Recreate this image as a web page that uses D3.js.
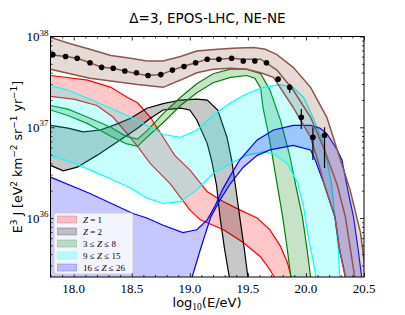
<!DOCTYPE html>
<html>
<head>
<meta charset="utf-8">
<script src="https://cdn.jsdelivr.net/npm/d3@7"></script>
<style>
body { margin: 0; background: #fff; }
</style>
</head>
<body>
<script>
// band edges: [log10(E/eV), log10(E^3 J)]
const totUp = [[17.80,37.99],[17.97,37.92],[18.14,37.86],[18.32,37.79],[18.49,37.76],[18.63,37.73],[18.77,37.73],[18.92,37.78],[19.06,37.84],[19.24,37.86],[19.37,37.87],[19.55,37.88],[19.65,37.86],[19.75,37.80],[19.89,37.66],[20.04,37.44],[20.18,37.11],[20.27,36.75],[20.38,36.31],[20.47,35.84],[20.50,35.54],[20.53,35.30]];
const totMid = [[17.80,37.80],[17.93,37.78],[18.03,37.76],[18.14,37.71],[18.24,37.66],[18.34,37.65],[18.44,37.62],[18.54,37.59],[18.64,37.57],[18.75,37.58],[18.85,37.63],[18.94,37.67],[19.05,37.71],[19.15,37.75],[19.25,37.75],[19.36,37.76],[19.46,37.75],[19.61,37.75],[19.75,37.63],[19.89,37.41],[20.04,37.11],[20.16,36.75],[20.27,36.36],[20.34,36.01],[20.42,35.35],[20.44,35.20]];
const totLo = [[17.80,37.64],[18.14,37.54],[18.55,37.47],[18.77,37.44],[18.92,37.52],[19.06,37.60],[19.20,37.64],[19.35,37.65],[19.49,37.64],[19.61,37.60],[19.72,37.55],[19.89,37.22],[20.04,36.89],[20.10,36.64],[20.16,36.36],[20.25,36.01],[20.29,35.65],[20.34,35.35],[20.36,35.20]];

const z1Up = [[17.80,37.57],[18.12,37.52],[18.32,37.44],[18.46,37.33],[18.55,37.27],[18.66,37.11],[18.77,36.89],[18.87,36.69],[19.00,36.53],[19.15,36.29],[19.29,36.18],[19.43,36.09],[19.58,36.00],[19.69,35.87],[19.78,35.69],[19.84,35.51],[19.88,35.32],[19.90,35.10]];
const z1Lo = [[17.80,37.34],[18.00,37.31],[18.20,37.24],[18.34,37.11],[18.46,36.93],[18.55,36.79],[18.66,36.60],[18.83,36.38],[19.00,36.09],[19.09,35.98],[19.29,35.87],[19.46,35.73],[19.61,35.57],[19.69,35.43],[19.73,35.34],[19.75,35.10]];

const z2Up = [[17.80,37.02],[17.95,36.99],[18.08,36.95],[18.23,36.97],[18.38,37.04],[18.49,37.10],[18.63,37.21],[18.77,37.26],[18.92,37.30],[19.06,37.31],[19.15,37.30],[19.24,37.19],[19.32,36.89],[19.36,36.64],[19.39,36.38],[19.43,36.01],[19.47,35.65],[19.50,35.35],[19.51,35.10]];
const z2Lo = [[17.80,36.58],[17.91,36.52],[18.03,36.56],[18.20,36.69],[18.40,36.86],[18.55,36.99],[18.66,37.10],[18.77,37.19],[18.92,37.21],[19.00,37.19],[19.06,37.08],[19.15,36.82],[19.19,36.62],[19.23,36.36],[19.26,36.01],[19.30,35.65],[19.34,35.35],[19.35,35.10]];

const cnoUp = [[17.80,37.24],[17.95,37.20],[18.12,37.11],[18.32,37.00],[18.45,36.90],[18.55,36.87],[18.63,36.96],[18.77,37.15],[18.92,37.33],[19.06,37.48],[19.20,37.59],[19.35,37.64],[19.49,37.64],[19.61,37.59],[19.69,37.41],[19.78,37.08],[19.86,36.69],[19.92,36.31],[19.97,36.01],[20.01,35.65],[20.04,35.35],[20.05,35.10]];
const cnoLo = [[17.80,37.19],[17.95,37.13],[18.12,37.04],[18.32,36.90],[18.45,36.82],[18.55,36.79],[18.63,36.89],[18.77,37.05],[18.92,37.24],[19.06,37.38],[19.20,37.49],[19.35,37.55],[19.49,37.57],[19.56,37.54],[19.61,37.43],[19.63,37.22],[19.67,36.97],[19.71,36.69],[19.76,36.31],[19.80,36.01],[19.84,35.65],[19.87,35.35],[19.88,35.10]];

const siUp = [[17.80,37.46],[17.95,37.41],[18.12,37.32],[18.32,37.21],[18.49,37.11],[18.63,37.02],[18.77,36.92],[18.92,36.89],[19.06,36.97],[19.20,37.13],[19.35,37.27],[19.49,37.37],[19.63,37.44],[19.78,37.47],[19.89,37.44],[19.98,37.33],[20.06,37.11],[20.14,36.86],[20.18,36.64],[20.22,36.38],[20.25,36.01],[20.28,35.65],[20.29,35.35],[20.30,35.10]];
const siLo = [[17.80,36.69],[17.97,36.62],[18.14,36.53],[18.32,36.43],[18.49,36.33],[18.63,36.22],[18.77,36.16],[18.92,36.18],[19.06,36.31],[19.20,36.49],[19.35,36.60],[19.49,36.69],[19.63,36.73],[19.72,36.71],[19.84,36.60],[19.93,36.38],[19.98,36.12],[20.02,35.79],[20.06,35.54],[20.09,35.32],[20.10,35.10]];

const feUp = [[17.80,36.45],[18.14,36.27],[18.51,36.05],[18.63,36.00],[18.77,35.92],[18.94,35.84],[19.06,35.87],[19.15,35.98],[19.22,36.14],[19.28,36.31],[19.35,36.47],[19.43,36.64],[19.58,36.86],[19.72,36.97],[19.89,37.02],[20.04,37.02],[20.12,36.99],[20.18,36.93],[20.27,36.75],[20.31,36.64],[20.36,36.31],[20.41,36.01],[20.45,35.65],[20.48,35.35],[20.50,35.10]];
const feLo = [[17.80,35.10],[18.96,35.10],[19.02,35.35],[19.09,35.65],[19.18,36.01],[19.26,36.20],[19.35,36.38],[19.46,36.56],[19.58,36.69],[19.69,36.75],[19.89,36.80],[20.04,36.75],[20.08,36.64],[20.16,36.36],[20.25,36.01],[20.29,35.65],[20.34,35.35],[20.36,35.10]];

// measured spectrum
const dataX = [17.82,17.93,18.03,18.14,18.24,18.34,18.44,18.54,18.64,18.75,18.85,18.95,19.05,19.15,19.25,19.36,19.46,19.56,19.66,19.76,19.86,19.96,20.06,20.16];
const dataY = [37.80,37.78,37.76,37.71,37.66,37.65,37.62,37.60,37.57,37.58,37.63,37.67,37.71,37.75,37.75,37.76,37.73,37.73,37.71,37.53,37.44,37.11,36.89,36.91];
const errHi = [null,null,null,null,null,null,null,null,null,null,null,null,null,null,null,null,null,null,null,null,37.48,37.20,37.00,37.00];
const errLo = [null,null,null,null,null,null,null,null,null,null,null,null,null,null,null,null,null,null,null,null,37.38,36.98,36.64,36.55];

const legendLabels = ["Z = 1", "Z = 2", "3 ≤ Z ≤ 8", "9 ≤ Z ≤ 15", "16 ≤ Z ≤ 26"];
const xTicks = [18.0, 18.5, 19.0, 19.5, 20.0, 20.5];
const yDecades = [36, 37, 38];

const bands = [
  {up: z1Up, lo: z1Lo, color: "#ff0000"},
  {up: z2Up, lo: z2Lo, color: "#000000"},
  {up: cnoUp, lo: cnoLo, color: "#008000"},
  {up: siUp, lo: siLo, color: "#00ffff"},
  {up: feUp, lo: feLo, color: "#0000ff"}
];

const width = 405, height = 315;
const L = 50.5, R = 364, T = 36.5, B = 277;
const serif = "'Liberation Serif', 'DejaVu Serif', serif";
const sans = "'DejaVu Sans', sans-serif";

const svg = d3.select("body").append("svg")
  .attr("width", width).attr("height", height);

const x = d3.scaleLinear().domain([17.8, 20.5]).range([L, R]);
const y = d3.scaleLog().domain([Math.pow(10, 35.35), 1e38]).range([B, T]);

const px = d => x(d[0]);
const py = d => y(Math.pow(10, d[1]));
const line = d3.line().x(px).y(py);

svg.append("clipPath").attr("id", "plot")
  .append("rect").attr("x", L).attr("y", T).attr("width", R - L).attr("height", B - T);

const g = svg.append("g").attr("clip-path", "url(#plot)");

function drawBand(up, lo, color, op, sw) {
  const poly = up.concat(lo.slice().reverse());
  g.append("path").attr("d", line(poly) + "Z")
    .attr("fill", color).attr("fill-opacity", op).attr("stroke", "none");
  [up, lo].forEach(edge => {
    g.append("path").attr("d", line(edge))
      .attr("fill", "none").attr("stroke", color).attr("stroke-width", sw);
  });
}

bands.forEach(b => drawBand(b.up, b.lo, b.color, 0.22, 1.2));
drawBand(totUp, totLo, "#8c564b", 0.22, 1.5);
g.append("path").attr("d", line(totMid))
  .attr("fill", "none").attr("stroke", "#8c564b").attr("stroke-width", 1.5);

// data points
dataX.forEach((xv, i) => {
  if (errHi[i] !== null) {
    g.append("line")
      .attr("x1", x(xv)).attr("x2", x(xv))
      .attr("y1", py([xv, errHi[i]])).attr("y2", py([xv, errLo[i]]))
      .attr("stroke", "#000").attr("stroke-width", 1.2);
  }
  g.append("circle").attr("cx", x(xv)).attr("cy", py([xv, dataY[i]]))
    .attr("r", 2.8).attr("fill", "#000");
});

// axes, ticks pointing inward on all sides
const xMinor = d3.range(17.8, 20.55, 0.1).filter(v => !xTicks.some(t => Math.abs(t - v) < 1e-6));
const yMajor = yDecades.map(e => Math.pow(10, e));
const yMinor = y.ticks().filter(v => !yMajor.includes(v));

function ticks(axis, pos, size) {
  const ax = svg.append("g").attr("transform", pos)
    .call(axis.tickSize(-size).tickFormat(""));
  ax.select(".domain").remove();
  ax.selectAll(".tick line").attr("stroke", "#000").attr("stroke-width", 0.8);
  return ax;
}
ticks(d3.axisBottom(x).tickValues(xTicks), `translate(0,${B})`, 4);
ticks(d3.axisBottom(x).tickValues(xMinor), `translate(0,${B})`, 2);
ticks(d3.axisTop(x).tickValues(xTicks), `translate(0,${T})`, 4);
ticks(d3.axisTop(x).tickValues(xMinor), `translate(0,${T})`, 2);
ticks(d3.axisLeft(y).tickValues(yMajor), `translate(${L},0)`, 4);
ticks(d3.axisLeft(y).tickValues(yMinor), `translate(${L},0)`, 2);
ticks(d3.axisRight(y).tickValues(yMajor), `translate(${R},0)`, 4);
ticks(d3.axisRight(y).tickValues(yMinor), `translate(${R},0)`, 2);

svg.append("rect").attr("x", L).attr("y", T).attr("width", R - L).attr("height", B - T)
  .attr("fill", "none").attr("stroke", "#000").attr("stroke-width", 1);

// tick labels
svg.selectAll(".xlab").data(xTicks).enter().append("text")
  .attr("x", d => x(d)).attr("y", B + 16)
  .attr("text-anchor", "middle").attr("font-family", serif).attr("font-size", 13)
  .text(d => d.toFixed(1));

yDecades.forEach(e => {
  const t = svg.append("text").attr("x", L - 2).attr("y", y(Math.pow(10, e)) + 4.5)
    .attr("text-anchor", "end").attr("font-family", serif).attr("font-size", 13);
  t.append("tspan").text("10");
  t.append("tspan").attr("dy", -5.5).attr("font-size", 9).text(e);
});

// title and axis titles
svg.append("text").attr("x", 207.5).attr("y", 22.5).attr("text-anchor", "middle")
  .attr("font-family", sans).attr("font-size", 13.5).text("Δ=3, EPOS-LHC, NE-NE");

const xl = svg.append("text").attr("x", 207).attr("y", 306.5).attr("text-anchor", "middle")
  .attr("font-family", sans).attr("font-size", 13);
xl.append("tspan").text("log");
xl.append("tspan").attr("dy", 3).attr("font-family", serif).attr("font-size", 9.5).text("10");
xl.append("tspan").attr("dy", -3).text("(E/eV)");

const yl = svg.append("text").attr("transform", "translate(22,157) rotate(-90)")
  .attr("text-anchor", "middle").attr("font-family", sans).attr("font-size", 12.5);
[["E", 0], ["3", -5], [" J [eV", 5], ["2", -5], [" km", 5], ["−2", -5], [" sr", 5], ["−1", -5], [" yr", 5], ["−1", -5], ["]", 5]]
  .forEach(([s, dy]) => {
    const ts = yl.append("tspan").attr("dy", dy).text(s);
    if (dy < 0) ts.attr("font-size", 9);
  });

// legend
const lg = svg.append("g");
lg.append("rect").attr("x", 54).attr("y", 213).attr("width", 79).attr("height", 61)
  .attr("rx", 2.5).attr("fill", "#fff").attr("fill-opacity", 0.8)
  .attr("stroke", "#cccccc").attr("stroke-width", 0.8);
legendLabels.forEach((lab, i) => {
  const cy = 219.5 + i * 12;
  lg.append("rect").attr("x", 57.5).attr("y", cy - 3.5).attr("width", 19).attr("height", 7)
    .attr("fill", bands[i].color).attr("fill-opacity", 0.22)
    .attr("stroke", bands[i].color).attr("stroke-opacity", 0.3).attr("stroke-width", 0.8);
  const parts = lab.split("Z");
  const t = lg.append("text").attr("x", 83).attr("y", cy + 3)
    .attr("font-family", serif).attr("font-size", 9);
  t.append("tspan").text(parts[0]);
  t.append("tspan").attr("font-style", "italic").text("Z");
  t.append("tspan").text(parts[1]);
});
</script>
</body>
</html>
